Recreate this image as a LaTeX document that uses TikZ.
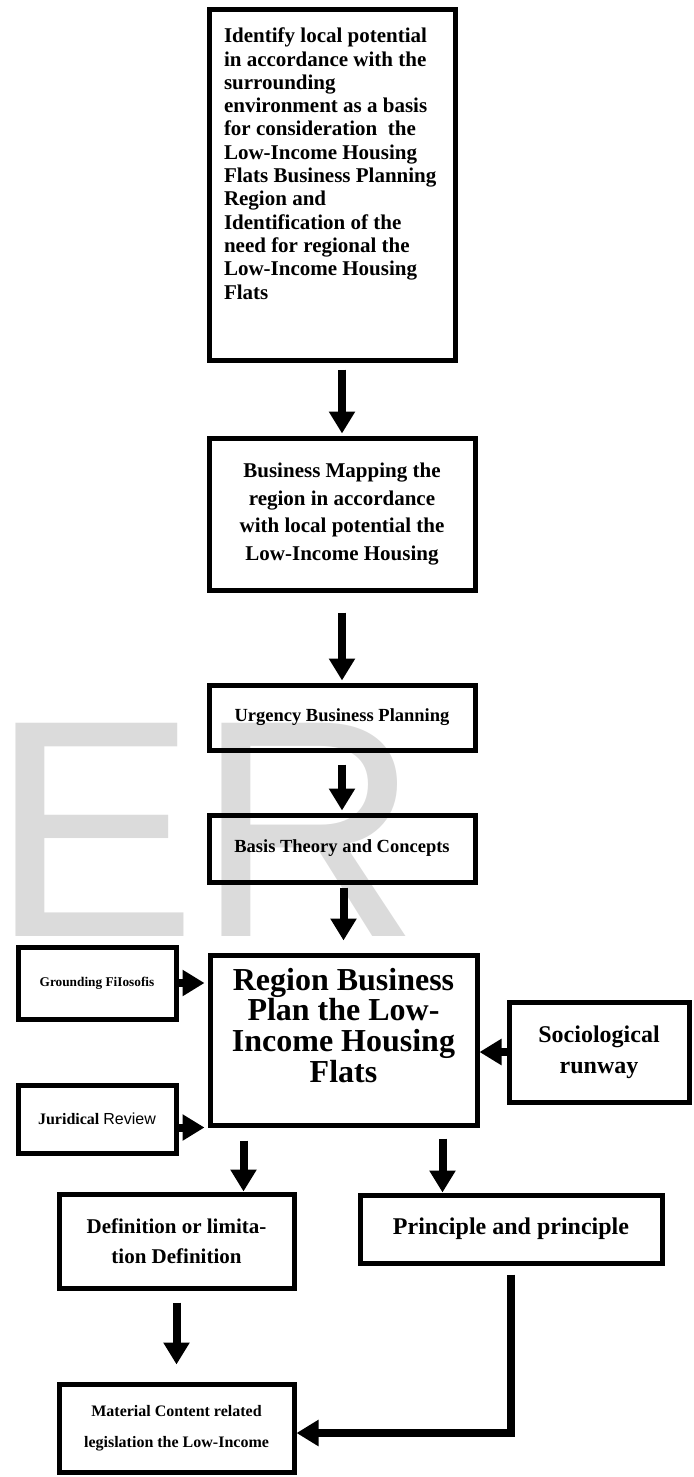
\documentclass[tikz,border=0pt]{standalone}
\usepackage{fontspec}
\setmainfont{Liberation Serif}
\setsansfont{Liberation Sans}
\usetikzlibrary{arrows.meta}

\begin{document}
\begin{tikzpicture}[x=0.5pt, y=-0.5pt, ->, >={Triangle[width=12.5pt,length=11pt]}, line width=4pt]
	\tikzstyle{box}=[draw=black, line width=2.5pt, rectangle, inner sep=0pt, align=center, font=\bfseries]
	
	\useasboundingbox (0,0) rectangle (694,1477);
	% watermark behind everything
	\node[anchor=base west, inner sep=0pt, text=black!14, font=\sffamily\fontsize{155}{155}\selectfont] at (-14,936) (ER) {ER};
	
	\node[box, minimum width=123pt, minimum height=175pt] at (332,185) (ident)
		{\parbox[c][157pt][t]{108pt}{\raggedright\fontsize{10.5}{11.65}\selectfont
		Identify local potential\\ in accordance with the\\ surrounding\\ environment as a basis\\ for consideration\ \ the\\ Low-Income Housing\\ Flats Business Planning\\ Region and\\ Identification of the\\ need for regional the\\ Low-Income Housing\\ Flats}};
	\node[box, minimum width=133pt, minimum height=76pt, font=\bfseries\fontsize{10.5}{13.7}\selectfont] at (342,514) (mapping)
		{Business Mapping the\\ region in accordance\\ with local potential the\\ Low-Income Housing};
	\node[box, minimum width=133pt, minimum height=32.5pt, font=\bfseries\fontsize{9.25}{11}\selectfont] at (342,717.5) (urgency) {Urgency Business Planning};
	\node[box, minimum width=133pt, minimum height=33.5pt, font=\bfseries\fontsize{9.25}{11}\selectfont] at (342,848.5) (basis) {Basis Theory and Concepts};
	
	\node[box, minimum width=133.5pt, minimum height=85pt] at (343.5,1040) (region)
		{\parbox[c][72pt][t]{125pt}{\centering\fontsize{16}{15.3}\selectfont
		Region Business\\ Plan the Low-\\ Income Housing\\ Flats}};
	\node[box, minimum width=79pt, minimum height=36pt, font=\bfseries\fontsize{6.65}{8}\selectfont] at (97,983) (ground) {Grounding FiIosofis};
	\node[box, minimum width=79pt, minimum height=34pt, font=\fontsize{8}{10}\selectfont] at (97,1119) (jur) {\textbf{Juridical} {\sffamily Review}};
	\node[box, minimum width=90pt, minimum height=50pt, font=\bfseries\fontsize{12}{15.5}\selectfont] at (599,1052) (soc) {Sociological\\ runway};
	
	\node[box, minimum width=117.5pt, minimum height=47pt, font=\bfseries\fontsize{10.5}{15}\selectfont] at (176.5,1241) (def) {Definition or limita-\\ tion Definition};
	\node[box, minimum width=151pt, minimum height=34pt, font=\bfseries\fontsize{12}{14}\selectfont] at (511,1229) (prin) {Principle and principle};
	\node[box, minimum width=117.5pt, minimum height=44pt, font=\bfseries\fontsize{8}{15.5}\selectfont] at (176.5,1428) (mat) {Material Content related\\ legislation the Low-Income};
	
	\path
		(mapping.north |- ident.south) edge[shorten <=3.5pt, shorten >=1pt] (mapping.north)
		(urgency.north |- mapping.south) edge[shorten <=10pt, shorten >=1pt] (urgency.north)
		(basis.north |- urgency.south) edge[shorten <=6pt, shorten >=1pt] (basis.north)
		(region.north |- basis.south) edge[shorten <=1.5pt, shorten >=6pt] (region.north)
		(ground.east) edge[shorten >=1.5pt] (ground.east -| region.west)
		(jur.east |- region.south west) edge[shorten >=1.5pt] (region.south west)
		(soc.west) edge (soc.west -| region.east)
		([xshift=-50pt]region.south) edge[shorten <=6.5pt] ([xshift=-50pt]region.south |- def.north)
		([xshift=49.5pt]region.south) edge[shorten <=5.5pt] ([xshift=49.5pt]region.south |- prin.north)
		(def.south) edge[shorten <=6pt, shorten >=8.5pt] (mat.north);
	\draw[shorten <=4.5pt] (prin.south) |- ([yshift=-2.5pt]mat.east);
\end{tikzpicture}
\end{document}
